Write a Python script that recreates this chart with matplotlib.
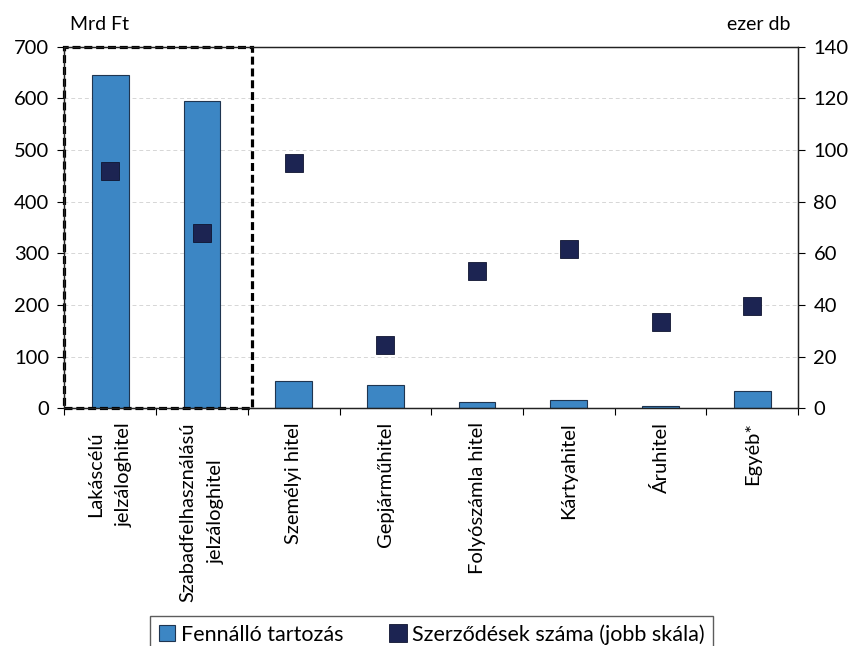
import matplotlib.pyplot as plt
from matplotlib.patches import Rectangle
import numpy as np

# Categories, outstanding debt (Mrd Ft, left scale) and number of contracts (ezer db, right scale)
categories = ['Lakáscélú\njelzáloghitel', 'Szabadfelhasználású\njelzáloghitel', 'Személyi hitel',
              'Gepjárműhitel', 'Folyószámla hitel', 'Kártyahitel', 'Áruhitel', 'Egyéb*']
debt = [645, 594, 53, 45, 12, 16, 4, 33]
contracts = [92, 68, 95, 24.3, 53.3, 61.7, 33.5, 39.7]

bar_color = '#3C86C4'
marker_color = '#1C2452'

plt.rcParams['font.family'] = ['Lato', 'DejaVu Sans']

fig = plt.figure(figsize=(8.5, 6.46), dpi=100)
ax = fig.add_axes([0.0757, 0.368, 0.8633, 0.560])
ax2 = ax.twinx()

x = np.arange(len(categories))
ax.bar(x, debt, width=0.4, color=bar_color, edgecolor='#1f3550', linewidth=0.8,
       label='Fennálló tartozás', zorder=2)
ax2.plot(x, contracts, linestyle='none', marker='s', markersize=12.5, color=marker_color,
         markeredgecolor='#0f1430', markeredgewidth=0.6, label='Szerződések száma (jobb skála)')

ax.set_xlim(-0.5, len(categories) - 0.5)
ax.set_ylim(0, 700)
ax2.set_ylim(0, 140)
ax.set_yticks(range(0, 701, 100))
ax2.set_yticks(range(0, 141, 20))
ax.grid(axis='y', color='#d6d6d6', linestyle=(0, (4, 3)), linewidth=0.7, zorder=0)
ax.set_axisbelow(True)

# ticks between categories on the x axis
ax.set_xticks(np.arange(-0.5, len(categories), 1.0), minor=False)
ax.set_xticklabels([])
ax.set_xticks(x, minor=True)
ax.set_xticklabels(categories, minor=True, rotation=90, ha='center', va='top',
                   fontsize=14.5, linespacing=1.85)
ax.tick_params(axis='x', which='minor', length=0, pad=10)
ax.tick_params(axis='x', which='major', length=5, direction='out', width=0.8)
ax.tick_params(axis='y', labelsize=14.5, length=5, width=0.8, pad=6)
ax2.tick_params(axis='y', labelsize=14.5, length=5, width=0.8, pad=6)

for a in (ax, ax2):
    for s in a.spines.values():
        s.set_linewidth(0.9)
        s.set_color('#222222')

# dashed frame around the mortgage-type loans
ax.add_patch(Rectangle((0.0, 0.0), 0.256, 1.0, transform=ax.transAxes, fill=False,
                       edgecolor='black', linestyle=(0, (2.5, 1.2)), linewidth=2.3,
                       clip_on=False, zorder=5))

fig.text(0.082, 0.962, 'Mrd Ft', fontsize=14, ha='left', va='center')
fig.text(0.93, 0.962, 'ezer db', fontsize=14, ha='right', va='center')

h1, l1 = ax.get_legend_handles_labels()
h2, l2 = ax2.get_legend_handles_labels()
ax.legend(h1 + h2, l1 + l2, loc='upper center', bbox_to_anchor=(0.508, 0.047),
          bbox_transform=fig.transFigure, ncol=2, frameon=True, fancybox=False,
          edgecolor='#333333', fontsize=15.5, handlelength=0.75, handleheight=0.75,
          handletextpad=0.25, columnspacing=2.2, borderpad=0.4, borderaxespad=0)

fig.savefig('out.png', dpi=100)
